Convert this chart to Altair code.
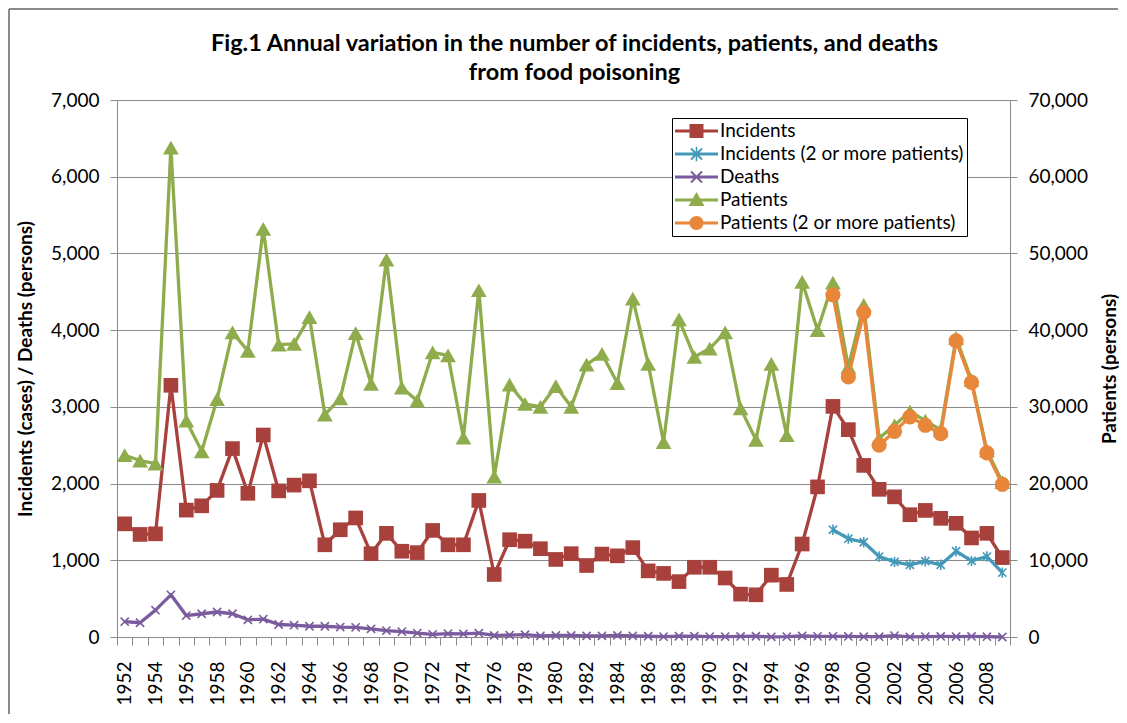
import altair as alt
import pandas as pd

years = list(range(1952, 2010))

incidents = [1475, 1337, 1345, 3281, 1654, 1710, 1911, 2456, 1873, 2633,
             1905, 1980, 2036, 1202, 1398, 1552, 1086, 1351, 1118, 1100,
             1389, 1202, 1202, 1780, 815, 1268, 1249, 1151, 1011, 1086,
             932, 1081, 1058, 1165, 862, 829, 722, 909, 909, 769,
             559, 550, 806, 685, 1212, 1957, 3006, 2703, 2237, 1925,
             1827, 1594, 1650, 1547, 1482, 1291, 1351, 1035]

deaths = [200, 186, 350, 550, 280, 303, 326, 303, 224, 233,
          163, 154, 140, 140, 130, 126, 107, 84, 70, 51,
          35, 45, 40, 50, 20, 25, 30, 15, 20, 20,
          15, 15, 20, 15, 10, 5, 10, 10, 5, 6,
          7, 10, 2, 5, 15, 8, 9, 7, 4, 4,
          18, 1, 5, 7, 6, 7, 4, 0]

patients = [23700, 23000, 22600, 63800, 28200, 24200, 31000, 39700, 37300, 53200,
            38100, 38200, 41700, 29000, 31100, 39600, 33000, 49200, 32500, 30800,
            37100, 36700, 26000, 45200, 20900, 32900, 30400, 30000, 32700, 30000,
            35500, 36900, 33100, 44100, 35600, 25400, 41400, 36500, 37600, 39700,
            29800, 25700, 35600, 26300, 46300, 40000, 46200, 35200, 43300, 25900,
            27600, 29400, 28200, 27000, 39000, 33500, 24300, 20200]

years2 = list(range(1998, 2010))
incidents2 = [1398, 1282, 1235, 1049, 979, 941, 988, 941, 1118, 993, 1049, 839]
patients2 = [44600, 33900, 42300, 25000, 26800, 28700, 27600, 26500, 38600, 33200, 24000, 19900]

series_names = ["Incidents", "Incidents (2 or more patients)", "Deaths",
                "Patients", "Patients (2 or more patients)"]
series_colors = ["#A8403C", "#4599B8", "#7A5C9E", "#8EAC4C", "#E8863A"]

rows = []
for y, v in zip(years, incidents):
    rows.append({"year": y, "value": v, "series": series_names[0]})
for y, v in zip(years2, incidents2):
    rows.append({"year": y, "value": v, "series": series_names[1]})
for y, v in zip(years, deaths):
    rows.append({"year": y, "value": v, "series": series_names[2]})
for y, v in zip(years, patients):
    rows.append({"year": y, "value": v, "series": series_names[3]})
for y, v in zip(years2, patients2):
    rows.append({"year": y, "value": v, "series": series_names[4]})
df = pd.DataFrame(rows)

FONT = "Lato"
GRAY = "#8a8a8a"

x_enc = alt.X(
    "year:O",
    scale=alt.Scale(paddingInner=0, paddingOuter=0),
    axis=alt.Axis(
        title=None,
        labelAngle=270,
        labelAlign="right",
        labelBaseline="middle",
        labelExpr="datum.value % 2 == 0 ? datum.label : ''",
        labelFont=FONT,
        labelFontSize=19,
        labelColor="#000000",
        labelPadding=16,
        tickBand="extent",
        tickSize=8,
        tickColor=GRAY,
        domainColor=GRAY,
        labelOverlap=False,
        grid=False,
    ),
)

y_left = alt.Y(
    "value:Q",
    scale=alt.Scale(domain=[0, 7000], nice=False),
    axis=alt.Axis(
        title="Incidents (cases) / Deaths (persons)",
        titleFont=FONT, titleFontSize=19, titleFontWeight="bold", titleColor="#000000",
        titleX=-92, titleBaseline="middle", titleAngle=270,
        values=[0, 1000, 2000, 3000, 4000, 5000, 6000, 7000],
        format=",.0f",
        labelFont=FONT, labelFontSize=19, labelColor="#000000",
        labelPadding=11, tickSize=7, tickColor=GRAY, domainColor=GRAY,
        grid=True, gridColor=GRAY, gridWidth=1,
    ),
)

y_right = alt.Y(
    "value:Q",
    scale=alt.Scale(domain=[0, 70000], nice=False),
    axis=alt.Axis(
        orient="right",
        title="Patients (persons)",
        titleFont=FONT, titleFontSize=19, titleFontWeight="bold", titleColor="#000000",
        titleX=99, titleBaseline="middle", titleAngle=270,
        values=[0, 10000, 20000, 30000, 40000, 50000, 60000, 70000],
        format=",.0f",
        labelFont=FONT, labelFontSize=19, labelColor="#000000",
        labelPadding=11, tickSize=7, tickColor=GRAY, domainColor=GRAY,
        grid=False,
    ),
)

x_path = "M-0.55,-0.55L0.55,0.55M-0.55,0.55L0.55,-0.55"
star_path = "M-0.55,-0.55L0.55,0.55M-0.55,0.55L0.55,-0.55M0,-0.7L0,0.7"

marker_specs = {
    series_names[0]: dict(shape="square", filled=True, size=215),
    series_names[1]: dict(shape=star_path, filled=False, size=220, strokeWidth=1.6),
    series_names[2]: dict(shape=x_path, filled=False, size=220, strokeWidth=1.6),
    series_names[3]: dict(shape="triangle-up", filled=True, size=250),
    series_names[4]: dict(shape="circle", filled=True, size=230),
}


def series_layers(name, color, y_enc):
    base = alt.Chart(df).transform_filter(alt.datum.series == name)
    line = base.mark_line(color=color, strokeWidth=3.3, strokeJoin="round").encode(x=x_enc, y=y_enc)
    spec = dict(marker_specs[name])
    pt = base.mark_point(color=color, opacity=1, **spec).encode(x=x_enc, y=y_enc)
    return [line, pt]


# legend symbols: line segment plus marker, all as filled clockwise polygons
cx = 1.15
seg = "M-1,-0.15H3.3V0.15H-1Z"
leg_square = seg + "M0.45,-0.7H1.85V0.7H0.45Z"
leg_tri = seg + "M1.15,-0.8L1.95,0.6L0.35,0.6Z"
leg_circle = seg + "M1.85,0A0.7,0.7 0 1 1 0.45,0A0.7,0.7 0 1 1 1.85,0Z"
o = 0.07
a = 0.55
xd = (f"M{cx-a+o},{-a-o}L{cx+a+o},{a-o}L{cx+a-o},{a+o}L{cx-a-o},{-a+o}Z"
      f"M{cx+a+o},{-a+o}L{cx-a+o},{a+o}L{cx-a-o},{a-o}L{cx+a-o},{-a-o}Z")
leg_x = seg + xd
leg_star = seg + xd + f"M{cx-0.08},-0.72H{cx+0.08}V0.72H{cx-0.08}Z"
legend_shapes = [leg_square, leg_star, leg_x, leg_tri, leg_circle]

legend_layer = alt.Chart(df).transform_filter("false").mark_point(filled=True, size=400, opacity=1).encode(
    x=x_enc,
    y=y_left,
    color=alt.Color("series:N", scale=alt.Scale(domain=series_names, range=series_colors),
                    legend=alt.Legend(
                        title=None, orient="none", legendX=555, legendY=18,
                        strokeColor="#000000", fillColor="#ffffff", padding=3,
                        symbolSize=400, symbolStrokeWidth=0, symbolOpacity=1,
                        labelFont=FONT, labelFontSize=19, labelColor="#000000",
                        labelOffset=25, rowPadding=3, labelLimit=400,
                    )),
    shape=alt.Shape("series:N", scale=alt.Scale(domain=series_names, range=legend_shapes)),
)

# chart-area border (top and left edges only, as in the reference)
frame_top = alt.Chart(df).mark_rule(color=GRAY, strokeWidth=1.5, clip=False).encode(
    x=alt.value(-108), x2=alt.value(1001), y=alt.value(-91)
)
frame_left = alt.Chart(df).mark_rule(color=GRAY, strokeWidth=1.5, clip=False).encode(
    x=alt.value(-108), y=alt.value(-91), y2=alt.value(614)
)

left_layers = [frame_top, frame_left]
for i in [0, 1, 2]:
    left_layers += series_layers(series_names[i], series_colors[i], y_left)
left_layers.append(legend_layer)

right_layers = []
for i in [3, 4]:
    right_layers += series_layers(series_names[i], series_colors[i], y_right)

left = alt.layer(*left_layers)
right = alt.layer(*right_layers)

chart = alt.layer(left, right).resolve_scale(y="independent").properties(
    width=893,
    height=537,
    autosize=alt.AutoSizeParams(type="none"),
    padding={"left": 109, "top": 92, "right": 109, "bottom": 78},
    title=alt.TitleParams(
        text=["Fig.1 Annual variation in the number of incidents, patients, and deaths",
              "from food poisoning"],
        font=FONT, fontSize=23.5, fontWeight="bold", color="#000000",
        anchor="middle", frame="group", dx=11, offset=0, dy=76, lineHeight=29,
    ),
).configure_view(stroke=None).configure(background="#ffffff")

chart.save("out.html", embed_options={"renderer": "svg", "actions": False})
